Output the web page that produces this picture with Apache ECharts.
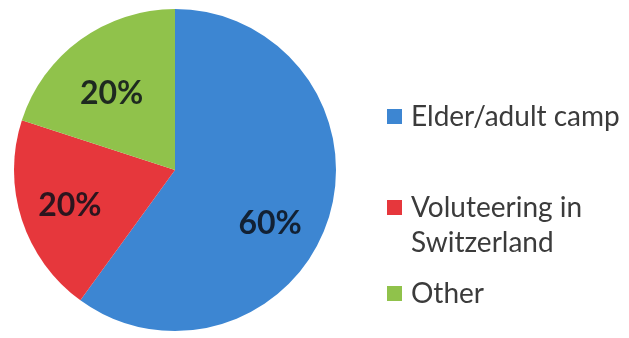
<!DOCTYPE html>
<html>
<head>
<meta charset="utf-8">
<script src="https://cdn.jsdelivr.net/npm/echarts@6/dist/echarts.min.js"></script>
<style>
  html, body { margin: 0; padding: 0; background: #ffffff; }
  #chart { width: 629px; height: 338px; }
</style>
</head>
<body>
<div id="chart"></div>
<script>
// Share of activities
const categories = ['Elder/adult camp', 'Voluteering in Switzerland', 'Other'];
const shares = [60, 20, 20];
const sliceColors = ['#3d86d2', '#e6373c', '#90c24b'];

const center = [175, 170];
const outerRadius = 161;

const pieData = categories.map((name, i) => ({
  name: name,
  value: shares[i],
  itemStyle: { color: sliceColors[i] }
}));

// nudges for the percentage labels inside each slice
const labelNudge = [[-9, 20], [-1, 2], [1, 12]];

// Legend entries; the wrapped entry keeps its swatch beside the first line
const legendText = {
  'Elder/adult camp': 'Elder/adult camp',
  'Voluteering in Switzerland': '\nVoluteering in\nSwitzerland',
  'Other': 'Other'
};
const legendTops = [99, 155, 276];
const legends = categories.map((name, i) => ({
  data: [name],
  left: 387,
  top: legendTops[i],
  padding: 0,
  orient: 'vertical',
  icon: 'rect',
  itemWidth: 15,
  itemHeight: 15,
  itemGap: 0,
  selectedMode: false,
  formatter: n => legendText[n],
  textStyle: {
    fontFamily: 'Lato',
    fontSize: 28,
    color: '#3b3b3b',
    lineHeight: 35,
    padding: [0, 0, 0, 4]
  }
}));

const chart = echarts.init(document.getElementById('chart'), null, { renderer: 'canvas' });
chart.setOption({
  animation: false,
  backgroundColor: '#ffffff',
  legend: legends,
  series: [
    {
      type: 'pie',
      center: center,
      radius: [0, outerRadius],
      startAngle: 90,
      clockwise: true,
      label: { show: false },
      labelLine: { show: false },
      data: pieData
    },
    {
      // transparent ring that carries the percentage labels
      type: 'pie',
      center: center,
      radius: [52, outerRadius],
      startAngle: 90,
      clockwise: true,
      silent: true,
      itemStyle: { color: 'rgba(0,0,0,0)' },
      label: {
        show: true,
        position: 'inside',
        formatter: p => p.value + '%',
        fontFamily: 'Lato',
        fontWeight: 'bold',
        fontSize: 32,
        color: 'rgba(10,15,25,0.85)'
      },
      labelLine: { show: false },
      data: categories.map((name, i) => ({
        name: name,
        value: shares[i],
        label: { offset: labelNudge[i] }
      }))
    }
  ]
});
</script>
</body>
</html>
